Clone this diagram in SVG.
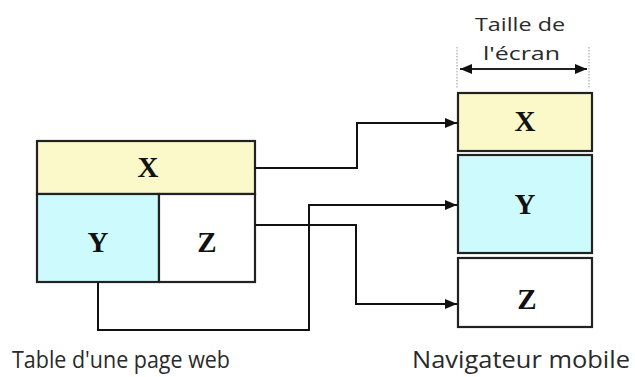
<svg xmlns="http://www.w3.org/2000/svg" width="635" height="377" viewBox="0 0 635 377">
<style>
.box{stroke:#222;stroke-width:2.2}
.lbl{font-family:"Liberation Serif",serif;font-weight:bold;font-size:29px;fill:#111;text-anchor:middle}
.cap{font-family:"Open Sans","Noto Sans",sans-serif;fill:#2a2a2a}
.con{fill:none;stroke:#111;stroke-width:2}
</style>
<defs>
<marker id="ah" viewBox="0 0 12 10" refX="12" refY="5" markerWidth="12" markerHeight="10" markerUnits="userSpaceOnUse" orient="auto-start-reverse">
<path d="M0,0 L12,5 L0,10 Z" fill="#111"/>
</marker>
</defs>
<rect width="635" height="377" fill="#fff"/>
<g id="table">
<g id="tX"><rect class="box" x="37" y="141" width="218" height="53" fill="#fbf8c9"/><text class="lbl" x="148" y="177">X</text></g>
<g id="tY"><rect class="box" x="37" y="194" width="122" height="88" fill="#cdfbfd"/><text class="lbl" x="98" y="252">Y</text></g>
<g id="tZ"><rect class="box" x="159" y="194" width="96" height="88" fill="#fff"/><text class="lbl" x="207" y="252">Z</text></g>
</g>
<g id="mobile">
<g id="mX"><rect class="box" x="458" y="93" width="134" height="58" fill="#fbf8c9"/><text class="lbl" x="525" y="131">X</text></g>
<g id="mY"><rect class="box" x="458" y="155" width="134" height="98" fill="#cdfbfd"/><text class="lbl" x="525" y="214">Y</text></g>
<g id="mZ"><rect class="box" x="458" y="258" width="134" height="69" fill="#fff"/><text class="lbl" x="527" y="309">Z</text></g>
</g>
<g id="connectors">
<polyline class="con" points="255,168 357,168 357,123 457,123" marker-end="url(#ah)"/>
<polyline class="con" points="98,283 98,330 309,330 309,205 457,205" marker-end="url(#ah)"/>
<polyline class="con" points="255,225 356,225 356,304 457,304" marker-end="url(#ah)"/>
</g>
<g id="width-indicator">
<line x1="457" y1="47" x2="457" y2="88" stroke="#999" stroke-width="1" stroke-dasharray="1.5,1.5"/>
<line x1="589" y1="47" x2="589" y2="88" stroke="#999" stroke-width="1" stroke-dasharray="1.5,1.5"/>
<line x1="460" y1="69" x2="587" y2="69" stroke="#222" stroke-width="2" marker-start="url(#ah)" marker-end="url(#ah)"/>
<text class="cap" x="475" y="31" font-size="19" textLength="90" lengthAdjust="spacingAndGlyphs">Taille de</text>
<text class="cap" x="483" y="60" font-size="19" textLength="77" lengthAdjust="spacingAndGlyphs">l'écran</text>
</g>
<text class="cap" x="12" y="368" font-size="23" textLength="218" lengthAdjust="spacingAndGlyphs">Table d'une page web</text>
<text class="cap" x="412" y="368" font-size="23" textLength="218" lengthAdjust="spacingAndGlyphs">Navigateur mobile</text>
</svg>
